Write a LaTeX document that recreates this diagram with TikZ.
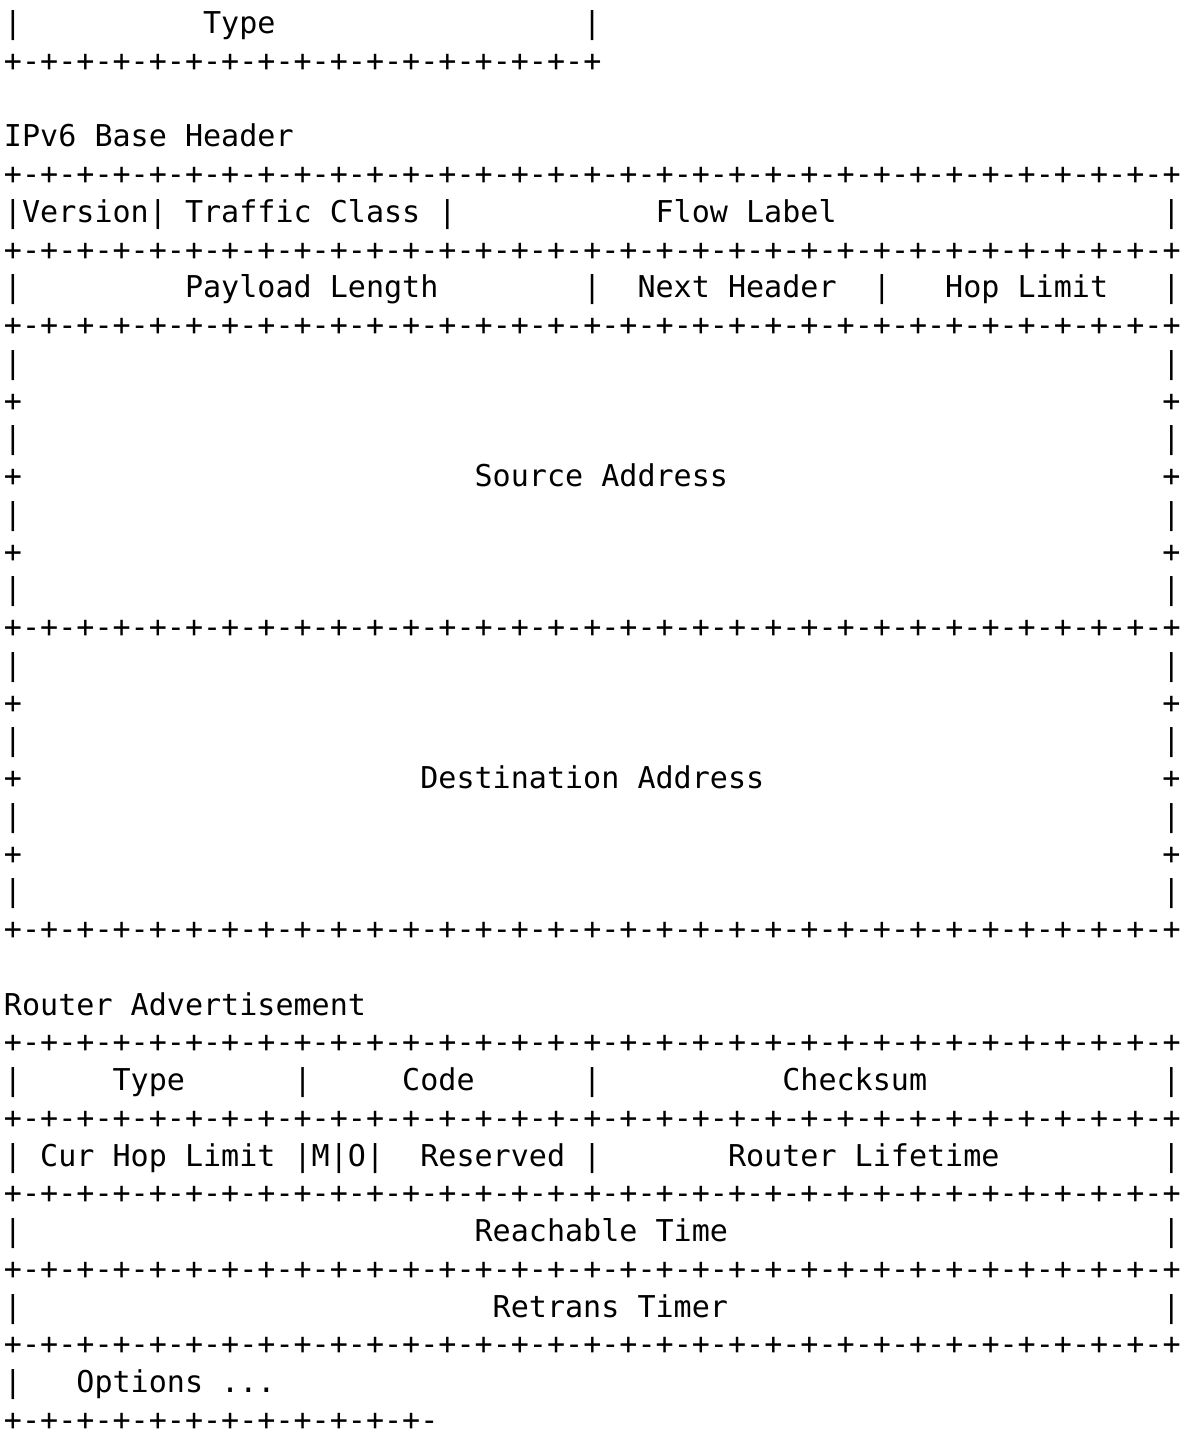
\documentclass[tikz,border=0pt]{standalone}
\usepackage{fontspec}
\newfontfamily\asciifont{DejaVu Sans Mono}
\newcommand\rulefull{+-+-+-+-+-+-+-+-+-+-+-+-+-+-+-+-+-+-+-+-+-+-+-+-+-+-+-+-+-+-+-+-+}
\newcommand\ruleword{+-+-+-+-+-+-+-+-+-+-+-+-+-+-+-+-+}
\newcommand\rulestub{+-+-+-+-+-+-+-+-+-+-+-+-}
\tikzset{
  ascii/.style={anchor=base west, inner sep=0pt, outer sep=0pt,
                font=\asciifont\fontsize{30.07pt}{37.8pt}\selectfont},
}
\begin{document}
\begin{tikzpicture}
  \useasboundingbox (0pt,0pt) rectangle (1183pt,-1430pt);
  \begin{scope}[x=18.1pt, y=-37.75pt, shift={(4pt,-33.5pt)}]
    % column / row grid of the text art
    \node[ascii] (typetop) at (11,0) {Type};
    \node[ascii] (ruletop) at (0,1) {\ruleword};
    % IPv6 base header
    \node[ascii] (ipvtitle) at (0,3) {IPv6 Base Header};
    \node[ascii] (version) at (0,5) {|Version| Traffic Class |};
    \node[ascii] (flowlabel) at (36,5) {Flow Label};
    \node[ascii] (paylen) at (10,7) {Payload Length};
    \node[ascii] (nexthdr) at (35,7) {Next Header};
    \node[ascii] (hoplim) at (52,7) {Hop Limit};
    \node[ascii] (srcaddr) at (26,12) {Source Address};
    \node[ascii] (dstaddr) at (23,20) {Destination Address};
    % Router Advertisement
    \node[ascii] (ratitle) at (0,26) {Router Advertisement};
    \node[ascii] (type) at (6,28) {Type};
    \node[ascii] (code) at (22,28) {Code};
    \node[ascii] (checksum) at (43,28) {Checksum};
    \node[ascii] (curhop) at (0,30) {| Cur Hop Limit |M|O|};
    \node[ascii] (reserved) at (23,30) {Reserved |};
    \node[ascii] (lifetime) at (40,30) {Router Lifetime};
    \node[ascii] (reachable) at (26,32) {Reachable Time};
    \node[ascii] (retrans) at (27,34) {Retrans Timer};
    \node[ascii] (options) at (4,36) {Options ...};
    \node[ascii] (rulestub) at (0,37) {\rulestub};
    % full width rules
    \foreach \r in {4,6,8,16,24,27,29,31,33,35}
      \node[ascii] (rule-\r) at (0,\r) {\rulefull};
    % field separators
    \foreach \c/\r in {0/0,32/0,64/5,0/7,32/7,48/7,64/7,0/28,16/28,32/28,64/28,
                       64/30,0/32,64/32,0/34,64/34,0/36}
      \node[ascii] (bar-\r-\c) at (\c,\r) {|};
    % address block sides
    \foreach \r/\s in {9/|,10/+,11/|,12/+,13/|,14/+,15/|,
                       17/|,18/+,19/|,20/+,21/|,22/+,23/|} {
      \node[ascii] (left-\r) at (0,\r) {\s};
      \node[ascii] (right-\r) at (64,\r) {\s};
    }
  \end{scope}
\end{tikzpicture}
\end{document}
